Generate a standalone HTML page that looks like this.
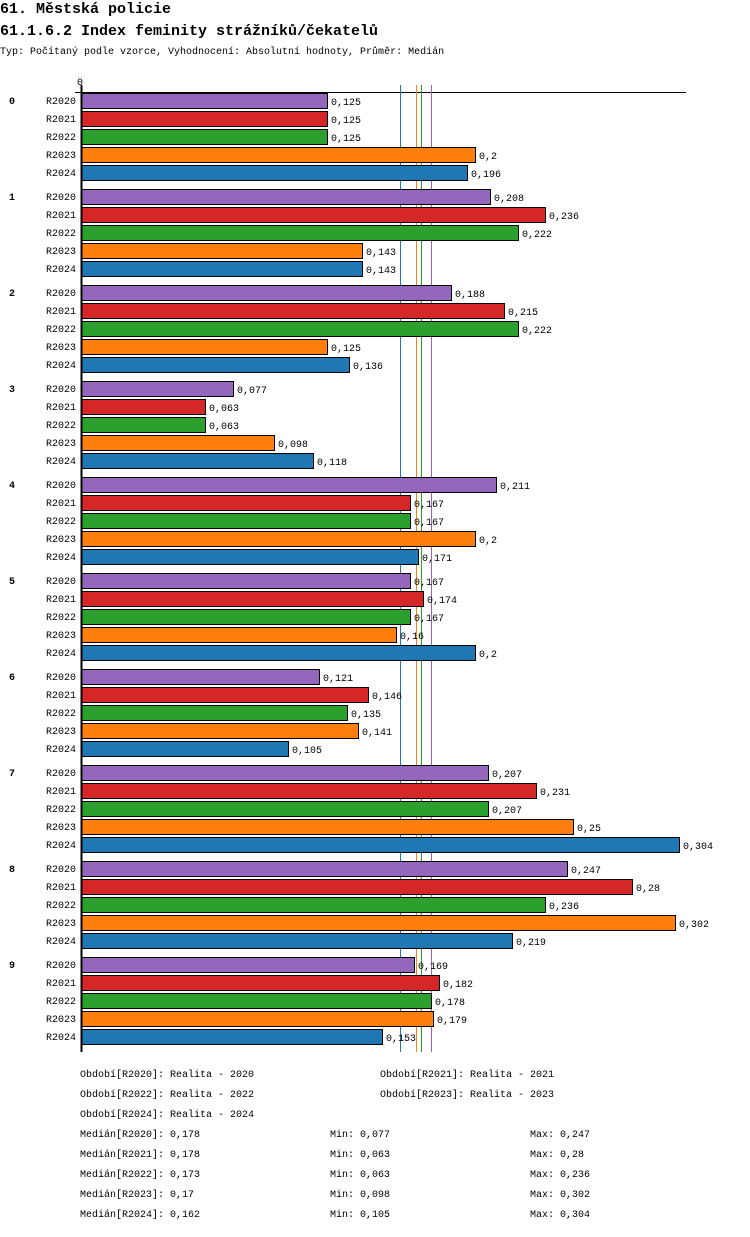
<!DOCTYPE html>
<html><head><meta charset="utf-8"><style>
body{margin:0;background:#fff;}
svg text{font-family:"Liberation Mono",monospace;fill:#000;}
</style></head><body>
<svg id="c" width="750" height="1232" xmlns="http://www.w3.org/2000/svg">
<text x="0" y="13" font-size="15" font-weight="bold">61. Městská policie</text>
<text x="0" y="35" font-size="15" font-weight="bold">61.1.6.2 Index feminity strážníků/čekatelů</text>
<text x="0" y="54" font-size="10">Typ: Počítaný podle vzorce, Vyhodnocení: Absolutní hodnoty, Průměr: Medián</text>
<g id="g"></g>
</svg>
<script>
const groups=["0","1","2","3","4","5","6","7","8","9"];
const series=["R2020","R2021","R2022","R2023","R2024"];
const colors=["#9467bd","#d62728","#2ca02c","#ff7f0e","#1f77b4"];
const v2020=[0.125,0.208,0.188,0.077,0.211,0.167,0.121,0.207,0.247,0.169];
const v2021=[0.125,0.236,0.215,0.063,0.167,0.174,0.146,0.231,0.28,0.182];
const v2022=[0.125,0.222,0.222,0.063,0.167,0.167,0.135,0.207,0.236,0.178];
const v2023=[0.2,0.143,0.125,0.098,0.2,0.16,0.141,0.25,0.302,0.179];
const v2024=[0.196,0.143,0.136,0.118,0.171,0.2,0.105,0.304,0.219,0.153];
const medians=[0.178,0.178,0.173,0.17,0.162];
const mins=[0.077,0.063,0.063,0.098,0.105];
const maxs=[0.247,0.28,0.236,0.302,0.304];
const periodNames=["Realita - 2020","Realita - 2021","Realita - 2022","Realita - 2023","Realita - 2024"];
const vals=[v2020,v2021,v2022,v2023,v2024];
const NS="http://www.w3.org/2000/svg";
const g=document.getElementById('g');
const x=v=>81+v*1968;
const y=(gi,si)=>92+gi*96+si*18;
const fmt=v=>String(v).replace('.',',');
function mk(t,a,txt){const e=document.createElementNS(NS,t);for(const k in a)e.setAttribute(k,a[k]);if(txt!=null)e.textContent=txt;g.appendChild(e);return e;}
let e;
e=mk('line',{x1:75,y1:92.5,x2:686,y2:92.5,stroke:'#000','stroke-width':1});


e=mk('text',{x:77,y:85,'font-size':10},'0');


[4,3,2,1,0].forEach(si=>{
  e=mk('line',{x1:Math.round(x(medians[si]))+0.5,y1:85,x2:Math.round(x(medians[si]))+0.5,y2:1052,stroke:colors[si],'stroke-width':1});
  
  
});
groups.forEach((gn,gi)=>{
  e=mk('text',{x:9,y:y(gi,0)+12,'font-size':10,'font-weight':'bold'},gn);
  
  
  series.forEach((s,si)=>{
    const v=vals[si][gi];
    e=mk('text',{x:76,y:y(gi,si)+12,'font-size':10,'text-anchor':'end'},s);
    
    
    e=mk('rect',{x:81.5,y:y(gi,si)+1.5,width:Math.round(x(v))-81,height:15,fill:colors[si],stroke:'#000','stroke-width':1});
    
    
    e=mk('text',{x:Math.round(x(v))+4,y:y(gi,si)+13,'font-size':10},fmt(v));
    
    
  });
});
e=mk('line',{x1:81.5,y1:85,x2:81.5,y2:1052,stroke:'#000','stroke-width':2});


series.forEach((s,si)=>{
  const lx=si%2?380:80, ly=1077+Math.floor(si/2)*20;
  e=mk('text',{x:lx,y:ly,'font-size':10},'Období['+s+']: '+periodNames[si]);
  
  
  const my=1137+si*20;
  e=mk('text',{x:80,y:my,'font-size':10},'Medián['+s+']: '+fmt(medians[si]));
  
  
  e=mk('text',{x:330,y:my,'font-size':10},'Min: '+fmt(mins[si]));
  
  
  e=mk('text',{x:530,y:my,'font-size':10},'Max: '+fmt(maxs[si]));
  
  
});
</script>
</body></html>
